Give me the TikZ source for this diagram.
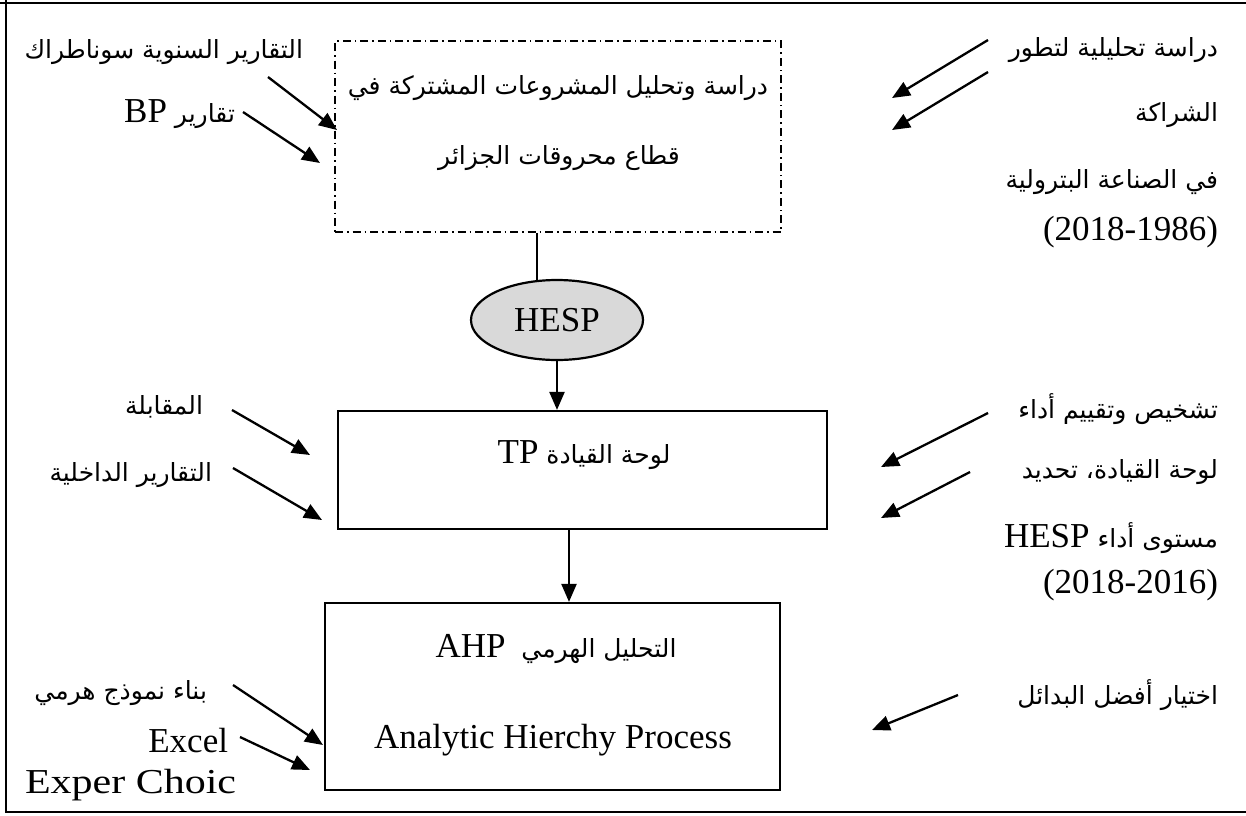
\documentclass[tikz,border=0pt]{standalone}
\usepackage{fontspec}
\setmainfont{Liberation Serif}
\newfontfamily\arabicfont[Script=Arabic]{DejaVu Sans}
\TeXXeTstate=1
\usetikzlibrary{arrows.meta,shapes.geometric}

% Arabic text set right to left; Latin words inside use the serif face
\newcommand{\lat}[1]{{\normalfont\fontsize{35}{40}\selectfont #1}}
\newcommand{\artxt}[1]{{\arabicfont\fontsize{25}{30}\selectfont\beginR #1\endR}}

\tikzset{
  lbl/.style={inner sep=0pt, outer sep=0pt},
  lblR/.style={lbl, anchor=base east},
  arr/.style={line width=2.3pt, -{Triangle[length=18pt,width=15pt]}},
  flowbox/.style={draw, line width=2.2pt, inner sep=0pt},
}

\begin{document}
\begin{tikzpicture}[x=1pt,y=-1pt,font=\fontsize{35}{40}\selectfont]
\useasboundingbox (0,0) rectangle (1246,815);

% outer frame (open on the right)
\draw[line width=2.6pt] (0,3) -- (1246,3);
\draw[line width=2.6pt] (6,0) -- (6,813);
\draw[line width=1.8pt] (6,812) -- (1246,812);

% main flow
\node[flowbox, dash pattern=on 8pt off 4pt on 1.5pt off 4pt,
      minimum width=446pt, minimum height=191pt] (study) at (558,136.5) {};
\node[lbl, anchor=base] (studyA) at (558,94) {\artxt{دراسة وتحليل المشروعات المشتركة في}};
\node[lbl, anchor=base] (studyB) at (559,164) {\artxt{قطاع محروقات الجزائر}};

\node[flowbox, ellipse, fill=black!15, minimum width=172pt, minimum height=80pt]
      (hesp) at (557,320) {HESP};

\node[flowbox, minimum width=489pt, minimum height=118pt] (tp) at (582.5,470) {};
\node[lbl, anchor=base] (tptxt) at (584,463) {\artxt{لوحة القيادة \lat{TP}}};

\node[flowbox, minimum width=455pt, minimum height=187pt] (ahp) at (552.5,696.5) {};
\node[lbl, anchor=base] (ahpA) at (556,657) {\artxt{التحليل الهرمي \ \lat{AHP}}};
\node[lbl, anchor=base] (ahpB) at (553,748) {Analytic Hierchy Process};

\draw[line width=2.2pt] (hesp.117 |- study.south) -- (hesp.117);
\draw[arr] (hesp.south) -- (hesp.south |- tp.north);
\draw[arr] ([xshift=-13.5pt]tp.south) -- ([xshift=-13.5pt]tp.south |- ahp.north);

% sources on the left
\node[lblR] (srcA) at (303,58) {\artxt{التقارير السنوية سوناطراك}};
\node[lblR] (srcB) at (235,122) {\artxt{تقارير \lat{BP}}};
\node[lblR] (srcC) at (203,414) {\artxt{المقابلة}};
\node[lblR] (srcD) at (212,481) {\artxt{التقارير الداخلية}};
\node[lblR] (srcE) at (207,699) {\artxt{بناء نموذج هرمي}};
\node[lblR] (srcF) at (228,752) {Excel};
\node[lbl, anchor=base west] (srcG) at (25,793) {\scalebox{1.2}[1]{Exper Choic}};

% outcomes on the right
\node[lblR] (outA1) at (1218,56) {\artxt{دراسة تحليلية لتطور}};
\node[lblR] (outA2) at (1218,121) {\artxt{الشراكة}};
\node[lblR] (outA3) at (1218,188) {\artxt{في الصناعة البترولية}};
\node[lblR] (outA4) at (1218,240) {(2018-1986)};
\node[lblR] (outB1) at (1218,418) {\artxt{تشخيص وتقييم أداء}};
\node[lblR] (outB2) at (1218,478) {\artxt{لوحة القيادة، تحديد}};
\node[lblR] (outB3) at (1218,547) {\artxt{مستوى أداء \lat{HESP}}};
\node[lblR] (outB4) at (1218,593) {(2018-2016)};
\node[lblR] (outC1) at (1218,704) {\artxt{اختيار أفضل البدائل}};

% arrow end points
\coordinate (a1s) at (268,77);  \coordinate (a1e) at (337,130);
\coordinate (a2s) at (243,112); \coordinate (a2e) at (320,163);
\coordinate (a3s) at (232,410); \coordinate (a3e) at (310,455);
\coordinate (a4s) at (233,468); \coordinate (a4e) at (322,520);
\coordinate (a5s) at (233,685); \coordinate (a5e) at (323,745);
\coordinate (a6s) at (240,737); \coordinate (a6e) at (310,770);
\coordinate (b1s) at (988,40);  \coordinate (b1e) at (892,98);
\coordinate (b2s) at (988,72);  \coordinate (b2e) at (892,130);
\coordinate (b3s) at (988,413); \coordinate (b3e) at (881,467);
\coordinate (b4s) at (970,472); \coordinate (b4e) at (881,518);
\coordinate (b5s) at (958,695); \coordinate (b5e) at (872,730);

\foreach \p in {a1,a2,a3,a4,a5,a6,b1,b2,b3,b4,b5}
  \draw[arr] (\p s) -- (\p e);
\end{tikzpicture}
\end{document}
